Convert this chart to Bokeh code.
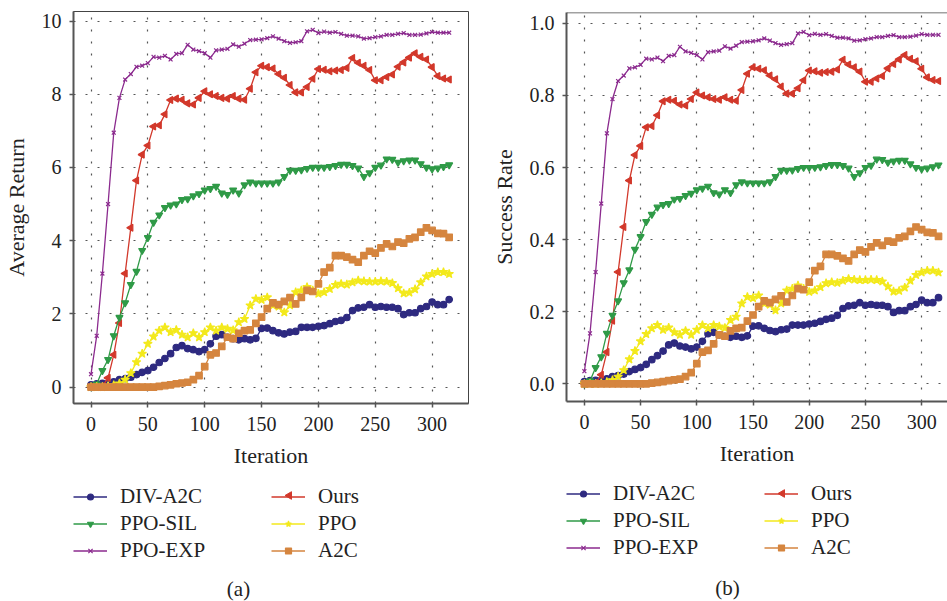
import math
from bokeh.plotting import figure
from bokeh.layouts import row, column
from bokeh.models import (Range1d, Legend, LegendItem, Label, Span, NumeralTickFormatter,
                          PolyAnnotation)
from bokeh.embed import file_html
from bokeh.resources import INLINE

# ---------------- data ----------------
iterations = list(range(0, 320, 5))

series_names = ["DIV-A2C", "Ours", "PPO-SIL", "PPO", "PPO-EXP", "A2C"]

# (a) Average Return
div_a2c_ret = [0.06, 0.09, 0.1, 0.1, 0.14, 0.2, 0.23, 0.27, 0.34, 0.4, 0.45, 0.54, 0.67, 0.78, 0.91, 1.08,
               1.13, 1.05, 1.02, 0.97, 1.02, 1.18, 1.39, 1.43, 1.36, 1.32, 1.29, 1.32, 1.29, 1.33, 1.6, 1.61,
               1.54, 1.48, 1.45, 1.5, 1.52, 1.63, 1.63, 1.63, 1.66, 1.68, 1.73, 1.79, 1.82, 1.9, 2.09, 2.16,
               2.18, 2.25, 2.18, 2.2, 2.18, 2.18, 2.14, 1.98, 2.03, 2.03, 2.14, 2.2, 2.32, 2.25, 2.25, 2.39]
ours_ret = [0.0, 0.0, 0.02, 0.25, 0.88, 1.75, 3.1, 4.35, 5.64, 6.35, 6.6, 7.12, 7.15, 7.45, 7.84, 7.88,
            7.85, 7.75, 7.72, 7.9, 8.08, 8.0, 7.95, 7.9, 7.88, 7.95, 7.88, 7.85, 8.15, 8.6, 8.78, 8.74,
            8.7, 8.55, 8.45, 8.25, 8.05, 8.05, 8.2, 8.42, 8.69, 8.67, 8.63, 8.65, 8.66, 8.72, 8.99, 8.86,
            8.78, 8.66, 8.38, 8.38, 8.47, 8.54, 8.75, 8.87, 9.0, 9.12, 9.02, 8.95, 8.74, 8.5, 8.43, 8.4]
ppo_sil_ret = [0.0, 0.08, 0.45, 0.75, 1.4, 1.9, 2.3, 2.8, 3.16, 3.73, 4.08, 4.5, 4.7, 4.9, 4.97, 5.0,
               5.12, 5.14, 5.22, 5.28, 5.38, 5.42, 5.48, 5.3, 5.26, 5.38, 5.3, 5.52, 5.6, 5.57, 5.57, 5.57,
               5.57, 5.6, 5.75, 5.92, 5.92, 5.93, 5.97, 6.0, 6.0, 6.0, 6.02, 6.05, 6.08, 6.08, 6.05, 5.98,
               5.75, 5.85, 6.0, 6.06, 6.23, 6.22, 6.14, 6.18, 6.2, 6.2, 6.1, 6.0, 5.96, 5.98, 6.02, 6.07]
ppo_ret = [0.0, 0.0, 0.0, 0.02, 0.05, 0.1, 0.2, 0.38, 0.68, 0.91, 1.18, 1.38, 1.54, 1.63, 1.5, 1.56,
           1.43, 1.36, 1.47, 1.36, 1.5, 1.63, 1.54, 1.63, 1.59, 1.55, 1.77, 1.86, 2.23, 2.41, 2.38, 2.45,
           2.23, 2.2, 2.04, 2.23, 2.59, 2.64, 2.73, 2.64, 2.55, 2.59, 2.68, 2.79, 2.82, 2.8, 2.86, 2.91,
           2.89, 2.88, 2.88, 2.89, 2.88, 2.84, 2.7, 2.56, 2.58, 2.67, 2.86, 3.02, 3.09, 3.14, 3.14, 3.09]
ppo_exp_ret = [0.35, 1.4, 3.1, 5.0, 6.95, 7.9, 8.4, 8.55, 8.75, 8.78, 8.85, 9.02, 9.0, 9.05, 8.95, 9.1,
               9.12, 9.35, 9.22, 9.18, 9.12, 9.0, 9.2, 9.22, 9.24, 9.36, 9.3, 9.38, 9.48, 9.49, 9.5, 9.53,
               9.58, 9.52, 9.45, 9.4, 9.42, 9.45, 9.72, 9.76, 9.67, 9.71, 9.68, 9.7, 9.65, 9.6, 9.6, 9.58,
               9.52, 9.53, 9.56, 9.58, 9.62, 9.62, 9.65, 9.67, 9.62, 9.62, 9.63, 9.66, 9.7, 9.68, 9.68, 9.68]
a2c_ret = [0.0, 0.0, 0.0, 0.0, 0.0, 0.0, 0.0, 0.0, 0.0, 0.0, 0.0, 0.0, 0.02, 0.04, 0.06, 0.09,
           0.11, 0.13, 0.2, 0.31, 0.56, 0.88, 0.93, 1.11, 1.36, 1.32, 1.47, 1.54, 1.56, 1.74, 1.91, 2.14,
           2.3, 2.25, 2.34, 2.44, 2.27, 2.45, 2.64, 2.61, 2.82, 3.14, 3.26, 3.59, 3.59, 3.55, 3.48, 3.41,
           3.59, 3.71, 3.66, 3.8, 3.91, 3.84, 3.96, 3.93, 4.05, 4.09, 4.23, 4.35, 4.28, 4.2, 4.19, 4.09]

# (b) Success Rate
div_a2c_sr = [0.006, 0.009, 0.01, 0.01, 0.014, 0.02, 0.023, 0.027, 0.034, 0.04, 0.045, 0.054, 0.067, 0.078, 0.091, 0.108,
              0.113, 0.105, 0.102, 0.097, 0.102, 0.118, 0.139, 0.143, 0.136, 0.132, 0.129, 0.132, 0.129, 0.133, 0.16, 0.161,
              0.154, 0.148, 0.145, 0.15, 0.152, 0.163, 0.163, 0.163, 0.166, 0.168, 0.173, 0.179, 0.182, 0.19, 0.209, 0.216,
              0.218, 0.225, 0.218, 0.22, 0.218, 0.218, 0.214, 0.198, 0.203, 0.203, 0.214, 0.22, 0.232, 0.225, 0.225, 0.239]
ours_sr = [0.0, 0.0, 0.002, 0.025, 0.088, 0.175, 0.31, 0.435, 0.564, 0.635, 0.66, 0.712, 0.715, 0.745, 0.784, 0.788,
           0.785, 0.775, 0.772, 0.79, 0.808, 0.8, 0.795, 0.79, 0.788, 0.795, 0.788, 0.785, 0.815, 0.86, 0.878, 0.874,
           0.87, 0.855, 0.845, 0.825, 0.805, 0.805, 0.82, 0.842, 0.869, 0.867, 0.863, 0.865, 0.866, 0.872, 0.899, 0.886,
           0.878, 0.866, 0.838, 0.838, 0.847, 0.854, 0.875, 0.887, 0.9, 0.912, 0.902, 0.895, 0.874, 0.85, 0.843, 0.84]
ppo_sil_sr = [0.0, 0.008, 0.045, 0.075, 0.14, 0.19, 0.23, 0.28, 0.316, 0.373, 0.408, 0.45, 0.47, 0.49, 0.497, 0.5,
              0.512, 0.514, 0.522, 0.528, 0.538, 0.542, 0.548, 0.53, 0.526, 0.538, 0.53, 0.552, 0.56, 0.557, 0.557, 0.557,
              0.557, 0.56, 0.575, 0.592, 0.592, 0.593, 0.597, 0.6, 0.6, 0.6, 0.602, 0.605, 0.608, 0.608, 0.605, 0.598,
              0.575, 0.585, 0.6, 0.606, 0.623, 0.622, 0.614, 0.618, 0.62, 0.62, 0.61, 0.6, 0.596, 0.598, 0.602, 0.607]
ppo_sr = [0.0, 0.0, 0.0, 0.002, 0.005, 0.01, 0.02, 0.038, 0.068, 0.091, 0.118, 0.138, 0.154, 0.163, 0.15, 0.156,
          0.143, 0.136, 0.147, 0.136, 0.15, 0.163, 0.154, 0.163, 0.159, 0.155, 0.177, 0.186, 0.223, 0.241, 0.238, 0.245,
          0.223, 0.22, 0.204, 0.223, 0.259, 0.264, 0.273, 0.264, 0.255, 0.259, 0.268, 0.279, 0.282, 0.28, 0.286, 0.291,
          0.289, 0.288, 0.288, 0.289, 0.288, 0.284, 0.27, 0.256, 0.258, 0.267, 0.286, 0.302, 0.309, 0.314, 0.314, 0.309]
ppo_exp_sr = [0.035, 0.14, 0.31, 0.5, 0.695, 0.79, 0.84, 0.855, 0.875, 0.878, 0.885, 0.902, 0.9, 0.905, 0.895, 0.91,
              0.912, 0.935, 0.922, 0.918, 0.912, 0.9, 0.92, 0.922, 0.924, 0.936, 0.93, 0.938, 0.948, 0.949, 0.95, 0.953,
              0.958, 0.952, 0.945, 0.94, 0.942, 0.945, 0.972, 0.976, 0.967, 0.971, 0.968, 0.97, 0.965, 0.96, 0.96, 0.958,
              0.952, 0.953, 0.956, 0.958, 0.962, 0.962, 0.965, 0.967, 0.962, 0.962, 0.963, 0.966, 0.97, 0.968, 0.968, 0.968]
a2c_sr = [0.0, 0.0, 0.0, 0.0, 0.0, 0.0, 0.0, 0.0, 0.0, 0.0, 0.0, 0.0, 0.002, 0.004, 0.006, 0.009,
          0.011, 0.013, 0.02, 0.031, 0.056, 0.088, 0.093, 0.111, 0.136, 0.132, 0.147, 0.154, 0.156, 0.174, 0.191, 0.214,
          0.23, 0.225, 0.234, 0.244, 0.227, 0.245, 0.264, 0.261, 0.282, 0.314, 0.326, 0.359, 0.359, 0.355, 0.348, 0.341,
          0.359, 0.371, 0.366, 0.38, 0.391, 0.384, 0.396, 0.393, 0.405, 0.409, 0.423, 0.435, 0.428, 0.42, 0.419, 0.409]

y_ticks_a = [0, 2, 4, 6, 8, 10]
y_ticks_b = [0.0, 0.2, 0.4, 0.6, 0.8, 1.0]
x_ticks = [0, 50, 100, 150, 200, 250, 300]

# ---------------- styles ----------------
FONT = "Liberation Serif"
TXT = "#222222"
styles = {
    "DIV-A2C": dict(color="#2e2a80", marker="circle", size=6.5, angle=0.0),
    "Ours":    dict(color="#d2382b", marker="triangle", size=7, angle=math.pi / 2),
    "PPO-SIL": dict(color="#2f9a47", marker="inverted_triangle", size=7, angle=0.0),
    "PPO":     dict(color="#f3e91c", marker="star", size=9, angle=0.0),
    "PPO-EXP": dict(color="#8b2a8e", marker="x", size=5.5, angle=0.0),
    "A2C":     dict(color="#d5853f", marker="square", size=6.5, angle=0.0),
}
legend_order = ["DIV-A2C", "PPO-SIL", "PPO-EXP", "Ours", "PPO", "A2C"]

PLOT_H = 480
LEG_H = 121
GLYPH_W = 34
LABEL_STANDOFF = 13
LABEL_W = 149
SPACING = 2


def add_series(fig, series):
    rends = {}
    for name in series_names:
        st = styles[name]
        ys = series[name]
        lr = fig.line(iterations, ys, line_color=st["color"], line_width=1.3)
        sr = fig.scatter(iterations, ys, marker=st["marker"], size=st["size"], angle=st["angle"],
                         fill_color=st["color"], line_color=st["color"], line_width=1.2)
        rends[name] = [lr, sr]
    return rends


def make_panel(series, ylabel, xr, yr, yticks, width, mb_left, mb_right,
               frame_top, frame_h, fmt, outline):
    p = figure(width=width, height=PLOT_H, output_backend="svg", toolbar_location=None,
               x_range=Range1d(*xr), y_range=Range1d(*yr),
               min_border_left=mb_left, min_border_right=mb_right,
               min_border_top=frame_top, min_border_bottom=PLOT_H - frame_top - frame_h)
    p.background_fill_color = "white"
    p.border_fill_color = "white"
    if outline:
        p.outline_line_color = "#444444"
        p.outline_line_width = 1
    else:
        p.outline_line_color = None
        p.add_layout(Span(location=yr[1], dimension="width", line_color="#444444", line_width=1.5))

    for ax in (p.xaxis[0], p.yaxis[0]):
        ax.axis_line_color = "#555555"
        ax.axis_line_width = 2
        ax.major_tick_line_color = "#555555"
        ax.major_tick_line_width = 1.5
        ax.major_tick_out = 4
        ax.major_tick_in = 0
        ax.minor_tick_line_color = None
        ax.major_label_text_font = FONT
        ax.major_label_text_font_size = "20px"
        ax.major_label_text_color = TXT
        ax.axis_label_text_font = FONT
        ax.axis_label_text_font_size = "22px"
        ax.axis_label_text_font_style = "normal"
        ax.axis_label_text_color = TXT
    p.xaxis[0].ticker = x_ticks
    p.yaxis[0].ticker = yticks
    if fmt:
        p.yaxis[0].formatter = NumeralTickFormatter(format=fmt)
    p.xaxis[0].axis_label = "Iteration"
    p.yaxis[0].axis_label = ylabel
    p.xaxis[0].major_label_standoff = 9
    p.yaxis[0].major_label_standoff = 8
    p.xaxis[0].axis_label_standoff = 9
    p.yaxis[0].axis_label_standoff = 10

    for g in (p.xgrid[0], p.ygrid[0]):
        g.grid_line_color = "#555555"
        g.grid_line_dash = "2 10"
        g.grid_line_width = 1.2

    add_series(p, series)
    return p


def make_legend_fig(series, width, leg_y, ours_row_y, tag, tag_x, tag_y):
    # frame of this figure is aligned with the plot frame above it;
    # the ranges are set so that the series themselves fall outside the view
    q = figure(width=width, height=LEG_H, output_backend="svg", toolbar_location=None,
               x_range=Range1d(5000, 5001), y_range=Range1d(5000, 5001),
               x_axis_type=None, y_axis_type=None,
               min_border_left=0, min_border_right=0, min_border_top=0, min_border_bottom=0)
    q.outline_line_color = None
    q.background_fill_color = "white"
    q.border_fill_color = "white"
    q.xgrid.visible = False
    q.ygrid.visible = False
    rends = add_series(q, series)
    items = []
    for n in legend_order:
        r = rends[n] if n != "Ours" else rends[n][:1]   # Ours marker drawn rotated below
        items.append(LegendItem(label=n, renderers=r))
    legend = Legend(items=items, ncols=2,
                    location=(0, leg_y), padding=0, margin=0, spacing=SPACING,
                    glyph_width=GLYPH_W, glyph_height=15, label_height=20, label_width=LABEL_W,
                    label_standoff=LABEL_STANDOFF, border_line_color=None, background_fill_alpha=0,
                    label_text_font=FONT, label_text_font_size="21px", label_text_color=TXT)
    q.add_layout(legend)
    # left-pointing triangle marker for "Ours" in the legend (column 2, row 1)
    cx = GLYPH_W + LABEL_STANDOFF + LABEL_W + SPACING + GLYPH_W / 2
    q.add_layout(PolyAnnotation(xs=[cx - 3.5, cx + 3.0, cx + 3.0],
                                ys=[ours_row_y, ours_row_y + 3.8, ours_row_y - 3.8],
                                xs_units="screen", ys_units="screen",
                                fill_color=styles["Ours"]["color"], fill_alpha=1.0,
                                line_color=styles["Ours"]["color"], line_alpha=1.0, line_width=1))
    q.add_layout(Label(x=tag_x, y=tag_y, x_units="screen", y_units="screen", text=tag,
                       text_font=FONT, text_font_size="21px", text_color=TXT,
                       text_align="center", text_baseline="middle"))
    return q


series_a = dict(zip(series_names, [div_a2c_ret, ours_ret, ppo_sil_ret, ppo_ret, ppo_exp_ret, a2c_ret]))
series_b = dict(zip(series_names, [div_a2c_sr, ours_sr, ppo_sil_sr, ppo_sr, ppo_exp_sr, a2c_sr]))

pa = make_panel(series_a, "Average Return", (-15.4, 332.0), (-0.45, 10.26), y_ticks_a,
                488, 72, 20, 11, 392, None, True)
pb = make_panel(series_b, "Success Rate", (-15.9, 323.0), (-0.049, 1.03), y_ticks_b,
                459, 76, 0, 12, 389, "0.0", False)
la = make_legend_fig(series_a, 488, 38, 106, "(a)", 165, 13)
lb = make_legend_fig(series_b, 459, 41, 108, "(b)", 161, 14)

layout = row(column(pa, la, spacing=0), column(pb, lb, spacing=0), spacing=0)
open("out.html", "w").write(file_html(layout, INLINE))
